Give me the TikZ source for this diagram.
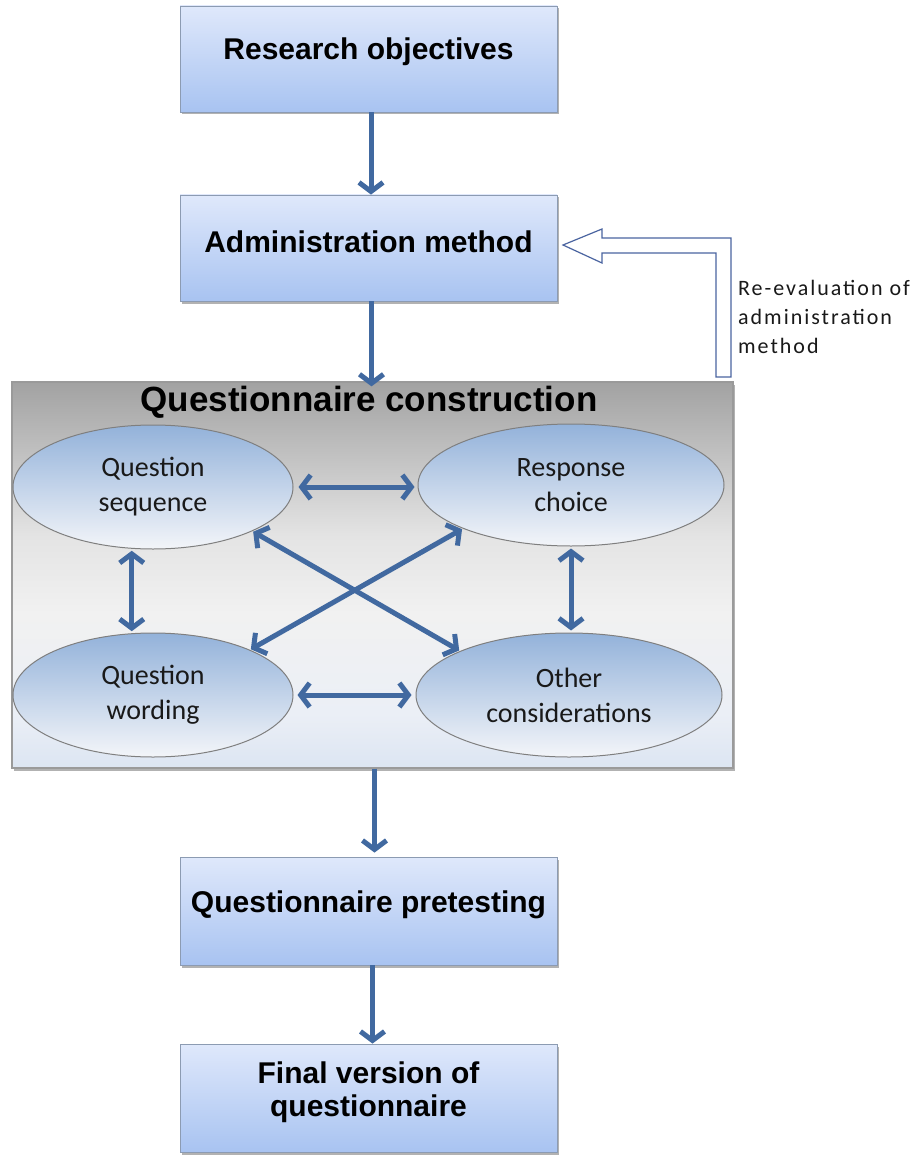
\documentclass[tikz,border=0pt]{standalone}
\usepackage{fontspec}
\setmainfont{Liberation Sans}
\newfontfamily\ellfont{Carlito}
\newfontfamily\sidefont[LetterSpace=9]{Carlito}
\usetikzlibrary{arrows.meta,shapes.geometric,shadows,calc}

\definecolor{flowblue}{HTML}{4169A0}
\definecolor{boxtop}{HTML}{DFE8FB}
\definecolor{boxbot}{HTML}{A8C3F1}
\definecolor{boxline}{HTML}{8C9BB2}
\definecolor{elltop}{HTML}{93B2DA}
\definecolor{ellbot}{HTML}{F3F5F9}
\definecolor{ellline}{HTML}{7F7F7F}
\definecolor{hollow}{HTML}{4A64A0}
\definecolor{qcA}{HTML}{A2A2A2}
\definecolor{qcB}{HTML}{E4E4E4}
\definecolor{qcC}{HTML}{F1F1F1}
\definecolor{qcD}{HTML}{EBEFF6}
\definecolor{qcE}{HTML}{DCE5F2}
\definecolor{qcline}{HTML}{9A9A9A}

% background of the construction panel: grey at the top fading to pale blue
\pgfdeclareverticalshading{qcback}{100bp}{color(0bp)=(qcE); color(25bp)=(qcE);
  color(32bp)=(qcD); color(45bp)=(qcC); color(55bp)=(qcB); color(75bp)=(qcA); color(100bp)=(qcA)}

\tikzset{
  stepbox/.style={draw=boxline, line width=0.8pt, top color=boxtop, bottom color=boxbot,
    minimum width=377pt, minimum height=106pt, inner sep=0pt,
    drop shadow={shadow xshift=1.5pt, shadow yshift=-2.5pt, fill=black, opacity=0.3}},
  steptext/.style={font=\fontsize{30}{33}\selectfont\bfseries, align=center, text=black},
  qcbox/.style={draw=qcline, line width=1.2pt, shading=qcback,
    minimum width=721pt, minimum height=386pt, inner sep=0pt,
    drop shadow={shadow xshift=2pt, shadow yshift=-3pt, fill=black, opacity=0.3}},
  topic/.style={ellipse, draw=ellline, line width=1pt, top color=elltop, bottom color=ellbot,
    minimum width=280pt, minimum height=124pt, inner sep=0pt,
    font=\ellfont\fontsize{28}{35}\selectfont, align=center, text=black!90},
  flow/.style={draw=flowblue, line width=5pt, -{Straight Barb[length=9pt,width=24pt]}},
  link/.style={draw=flowblue, line width=5pt,
    {Straight Barb[length=9pt,width=24pt]}-{Straight Barb[length=9pt,width=24pt]}},
  sidetext/.style={font=\sidefont\fontsize{22}{29}\selectfont, align=left, text=black!90,
    inner sep=0pt, anchor=west},
}

\begin{document}
\begin{tikzpicture}[x=1pt,y=-1pt]
\fill[white] (0,0) rectangle (917,1155);
\useasboundingbox (0,0) rectangle (917,1155);

% main steps
\node[stepbox] (ro) at (368.5,59) {};
\node[steptext] (rot) at (368.5,52) {Research objectives};
\node[stepbox] (am) at (368.5,248) {};
\node[steptext] (amt) at (368.5,242) {Administration method};

% construction panel
\node[qcbox] (qc) at (372.5,575) {};
\node[font=\fontsize{35}{40}\selectfont\bfseries] (qct) at (369,402) {Questionnaire construction};

\node[topic] (qs) at (153,487) {Question\\sequence};
\node[topic, minimum width=306pt, minimum height=122pt] (rc) at (571,485) {Response\\choice};
\node[topic] (qw) at (153,695) {Question\\wording};
\node[topic, minimum width=306pt] (oc) at (569,695) {Other\\considerations};

\node[stepbox, minimum height=108pt] (qp) at (368.5,911) {};
\node[steptext] (qpt) at (368.5,905) {Questionnaire pretesting};
\node[stepbox, minimum height=108pt] (fv) at (368.5,1098) {};
\node[steptext] (fvt) at (368.5,1092) {Final version of\\questionnaire};

% feedback arrow back to the administration method
\draw[draw=hollow, line width=1.2pt, fill=white]
  (563,245) -- (602,229) -- (602,238) -- (731,238) -- (731,377) -- (716,377)
  -- (716,253) -- (602,253) -- (602,263) -- cycle;
\node[sidetext] (re) at (738,317) {Re-evaluation of\\administration\\method};

% flow between the steps
\draw[flow] ([xshift=2.5pt]ro.south) -- ([xshift=2.5pt]am.north);
\draw[flow, shorten >=-5pt] ([xshift=3pt]am.south) -- ([xshift=3pt]am.south |- qc.north);
\draw[flow, shorten >=4pt] ([xshift=6pt]qp.north |- qc.south) -- ([xshift=6pt]qp.north);
\draw[flow] ([xshift=4pt]qp.south) -- ([xshift=4pt]fv.north);

% links between the construction topics
\draw[link, shorten <=5pt, shorten >=3pt] (qs.east) -- (qs.east -| rc.west);
\draw[link, shorten <=4pt, shorten >=4pt] (qw.east) -- (qw.east -| oc.west);
\draw[link, shorten <=2pt, shorten >=2pt] (qs.-109) -- (qw.109);
\draw[link, shorten <=2pt, shorten >=2pt] (rc.south) -- (rc.south |- oc.north);
\draw[link, shorten <=1pt, shorten >=1pt] (qs.-24) -- (oc.158);
\draw[link, shorten <=1pt, shorten >=1pt] (rc.202) -- (qw.25);
\end{tikzpicture}
\end{document}
